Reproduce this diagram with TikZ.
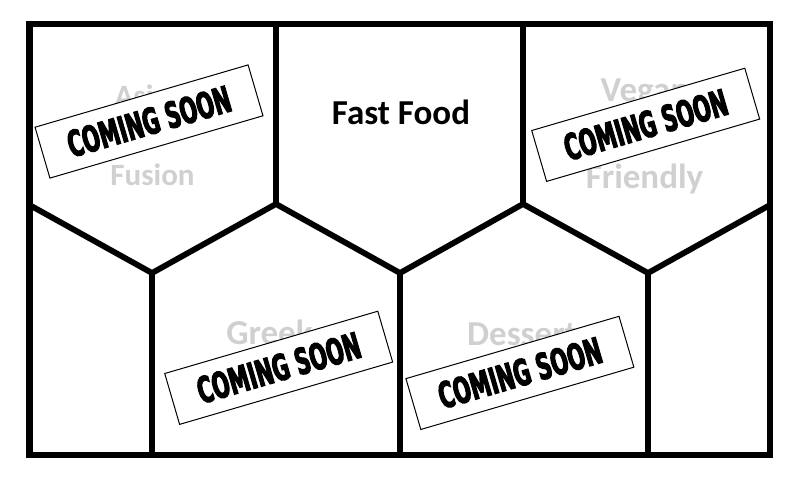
\documentclass[tikz,border=0pt]{standalone}
\usepackage{fontspec}
\setmainfont{Carlito}
\newfontfamily\impactfont{DejaVu Sans}[UprightFont={* Bold}, BoldFont={* Bold}, FakeStretch=0.57, FakeBold=3]
\definecolor{labelgray}{RGB}{208,208,208}
\begin{document}
\begin{tikzpicture}[x=1pt,y=-1pt,
  wall/.style={line width=5.8pt, line join=miter},
  outer/.style={line width=6.5pt, line join=miter},
  label/.style={font=\bfseries\fontsize{35}{42}\selectfont, anchor=base, inner sep=0pt},
  ghost/.style={label, text=labelgray},
  smallghost/.style={ghost, font=\bfseries\fontsize{31}{37}\selectfont},
  banner/.style={draw, fill=white, line width=1pt, minimum width=222pt, minimum height=53pt,
    rotate=16.3, inner sep=0pt, font=\impactfont\fontsize{36}{43}\selectfont}]
\useasboundingbox (0,0) rectangle (806,482);
% walls
\draw[outer] (29.5,24) rectangle (770,455);
\draw[wall] (29.5,205) -- (152,273) -- (276,204) -- (400,273) -- (523,204) -- (648,273) -- (770,205);
\draw[wall] (276,24) -- (276,204);
\draw[wall] (523,24) -- (523,204);
\draw[wall] (152,273) -- (152,455);
\draw[wall] (400,273) -- (400,455);
\draw[wall] (648,273) -- (648,455);
% labels
\node[label] (fast) at (401,124) {Fast Food};
\node[smallghost] (asian) at (150,106) {Asian};
\node[smallghost] (fusion) at (152.5,185.5) {Fusion};
\node[ghost] (vegan) at (645,101.5) {Vegan};
\node[ghost] (friendly) at (644.5,188) {Friendly};
\node[ghost] (greek) at (269.5,344) {Greek};
\node[ghost] (dessert) at (522,345) {Dessert};
% banners
\node[banner] (b1) at (149,121.5) {COMING SOON};
\node[banner] (b2) at (645.7,124.8) {COMING SOON};
\node[banner] (b3) at (278.7,367.8) {COMING SOON};
\node[banner] (b4) at (519.9,372.9) {COMING SOON};
\end{tikzpicture}
\end{document}
